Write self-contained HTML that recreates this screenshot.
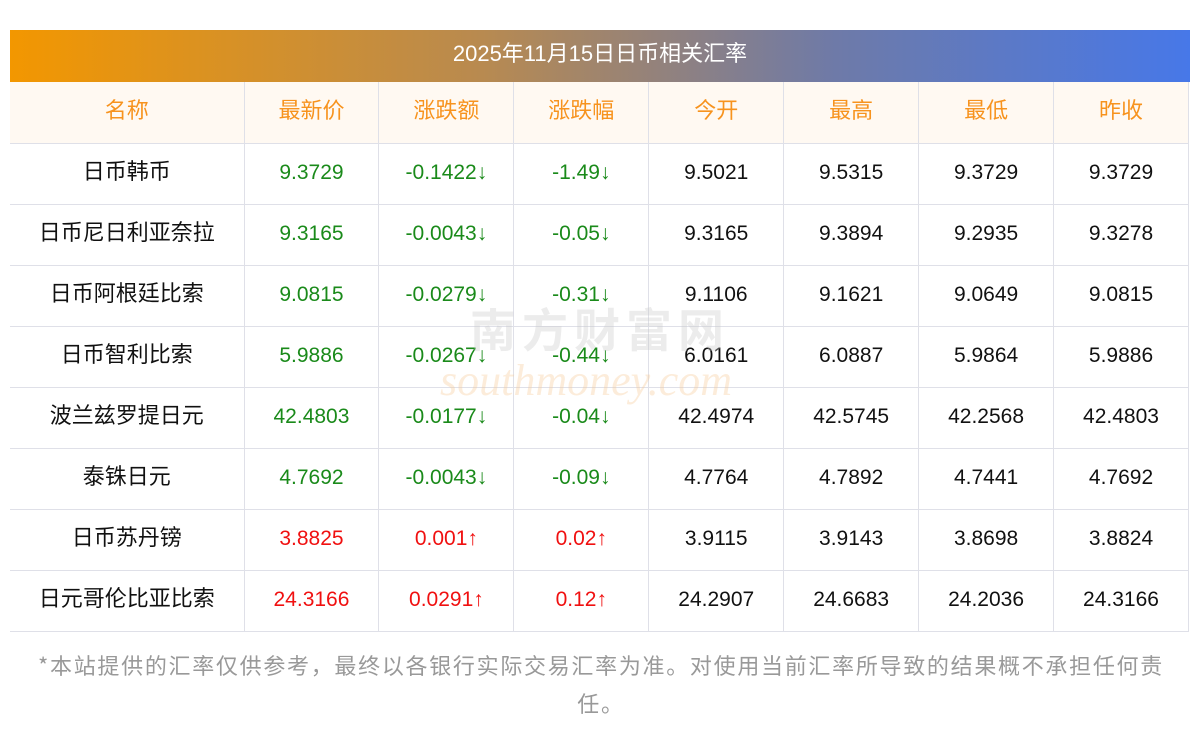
<!DOCTYPE html>
<html><head><meta charset="utf-8"><style>
body{margin:0;width:1200px;height:733px;background:#fff;font-family:"Liberation Sans","Noto Sans CJK SC",sans-serif;position:relative;overflow:hidden}
.title{position:absolute;left:10px;top:30px;width:1180px;height:52px;background:linear-gradient(90deg,#f39700,#b88a50 40%,#6e7aa8 70%,#4778e8);color:#fff;font-size:22px;line-height:47px;text-align:center}
table{position:absolute;left:10px;top:82px;border-collapse:collapse;table-layout:fixed;width:1179px}
td{height:61px;box-sizing:border-box;border-bottom:1px solid #dfe0e8;border-right:1px solid #dfe0e8;text-align:center;font-size:21px;line-height:24px;color:#111;padding:0 0 1px 0;vertical-align:middle}
tr.h td{background:#fff9f2;color:#f7931e;font-size:22px;font-family:"Noto Sans CJK SC",sans-serif;padding-bottom:6px}
td:first-child{width:234px;font-size:22px;font-family:"Noto Sans CJK SC",sans-serif;padding-bottom:7px}
.g{color:#1a8a1a}.r{color:#f01010}
.wm{position:absolute;left:470px;top:295px;font-size:46px;color:rgba(200,200,200,.35);font-weight:bold;letter-spacing:6px}
.wm2{position:absolute;left:440px;top:355px;font-size:44px;color:rgba(245,200,150,.35);font-style:italic;font-family:"Liberation Serif",serif}
.foot{position:absolute;left:20px;width:1162px;top:646px;font-size:22px;letter-spacing:1.7px;line-height:38px;color:#999;text-align:center;font-family:"Noto Sans CJK SC",sans-serif}
</style></head><body>
<div class="title">2025年11月15日日币相关汇率</div>
<table>
<tr class="h"><td>名称</td><td>最新价</td><td>涨跌额</td><td>涨跌幅</td><td>今开</td><td>最高</td><td>最低</td><td>昨收</td></tr>
<tr><td>日币韩币</td><td class="g">9.3729</td><td class="g">-0.1422↓</td><td class="g">-1.49↓</td><td>9.5021</td><td>9.5315</td><td>9.3729</td><td>9.3729</td></tr>
<tr><td>日币尼日利亚奈拉</td><td class="g">9.3165</td><td class="g">-0.0043↓</td><td class="g">-0.05↓</td><td>9.3165</td><td>9.3894</td><td>9.2935</td><td>9.3278</td></tr>
<tr><td>日币阿根廷比索</td><td class="g">9.0815</td><td class="g">-0.0279↓</td><td class="g">-0.31↓</td><td>9.1106</td><td>9.1621</td><td>9.0649</td><td>9.0815</td></tr>
<tr><td>日币智利比索</td><td class="g">5.9886</td><td class="g">-0.0267↓</td><td class="g">-0.44↓</td><td>6.0161</td><td>6.0887</td><td>5.9864</td><td>5.9886</td></tr>
<tr><td>波兰兹罗提日元</td><td class="g">42.4803</td><td class="g">-0.0177↓</td><td class="g">-0.04↓</td><td>42.4974</td><td>42.5745</td><td>42.2568</td><td>42.4803</td></tr>
<tr><td>泰铢日元</td><td class="g">4.7692</td><td class="g">-0.0043↓</td><td class="g">-0.09↓</td><td>4.7764</td><td>4.7892</td><td>4.7441</td><td>4.7692</td></tr>
<tr><td>日币苏丹镑</td><td class="r">3.8825</td><td class="r">0.001↑</td><td class="r">0.02↑</td><td>3.9115</td><td>3.9143</td><td>3.8698</td><td>3.8824</td></tr>
<tr><td>日元哥伦比亚比索</td><td class="r">24.3166</td><td class="r">0.0291↑</td><td class="r">0.12↑</td><td>24.2907</td><td>24.6683</td><td>24.2036</td><td>24.3166</td></tr>
</table>
<div class="wm">南方财富网</div>
<div class="wm2">southmoney.com</div>
<div class="foot">*本站提供的汇率仅供参考，最终以各银行实际交易汇率为准。对使用当前汇率所导致的结果概不承担任何责任。</div>
</body></html>
